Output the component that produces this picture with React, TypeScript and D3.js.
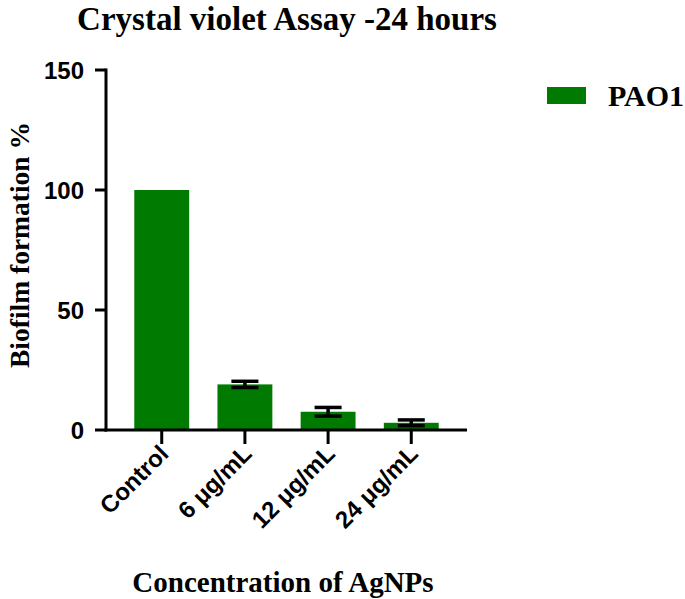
import React from "react";
import * as d3 from "d3";

const categories = ["Control", "6 \u03bcg/mL", "12 \u03bcg/mL", "24 \u03bcg/mL"];
const values = [100, 19, 7.6, 3];
const errors = [0, 1.3, 1.8, 1.2];
const yTicks = [0, 50, 100, 150];
const seriesName = "PAO1";

const W = 685;
const H = 599;
const left = 106;
const right = 467;
const top = 70;
const bottom = 430;
const green = "#007a00";
const serif = "Liberation Serif, Times New Roman, serif";
const sans = "Liberation Sans, Arial, sans-serif";

export default function App() {
  const x = d3.scaleBand<string>().domain(categories).range([left, right]).paddingInner(0.34).paddingOuter(0.34);
  const y = d3.scaleLinear().domain([0, 150]).range([bottom, top]);
  const bw = x.bandwidth();
  return (
    <svg width={W} height={H} style={{ position: "absolute", left: 0, top: 0 }}>
      <rect x={0} y={0} width={W} height={H} fill="#fff" />
      <text x={287} y={30} textAnchor="middle" fontFamily={serif} fontWeight="bold" fontSize={33}>
        Crystal violet Assay -24 hours
      </text>
      {categories.map((c, i) => (
        <rect key={c} x={x(c)} y={y(values[i])} width={bw} height={y(0) - y(values[i])} fill={green} />
      ))}
      {categories.map((c, i) =>
        errors[i] > 0 ? (
          <g key={"e" + c} stroke="#000" strokeWidth={3.5}>
            <line x1={x(c)! + bw / 2} x2={x(c)! + bw / 2} y1={y(values[i] + errors[i])} y2={y(values[i] - errors[i])} />
            <line x1={x(c)! + bw / 2 - 13.5} x2={x(c)! + bw / 2 + 13.5} y1={y(values[i] + errors[i])} y2={y(values[i] + errors[i])} />
            <line x1={x(c)! + bw / 2 - 13.5} x2={x(c)! + bw / 2 + 13.5} y1={y(values[i] - errors[i])} y2={y(values[i] - errors[i])} />
          </g>
        ) : null
      )}
      {/* y axis */}
      <line x1={left} x2={left} y1={top - 1.5} y2={bottom + 1.5} stroke="#000" strokeWidth={3} />
      {yTicks.map((t) => (
        <g key={t}>
          <line x1={left - 11} x2={left} y1={y(t)} y2={y(t)} stroke="#000" strokeWidth={3} />
          <text x={left - 22} y={y(t)} dy="0.36em" textAnchor="end" fontFamily={sans} fontWeight="bold" fontSize={24}>
            {t}
          </text>
        </g>
      ))}
      {/* x axis */}
      <line x1={left - 1.5} x2={right} y1={bottom} y2={bottom} stroke="#000" strokeWidth={3} />
      {categories.map((c) => {
        const cx = x(c)! + bw / 2;
        return (
          <g key={"t" + c}>
            <line x1={cx} x2={cx} y1={bottom} y2={bottom + 14} stroke="#000" strokeWidth={3} />
            <text
              transform={`translate(${cx - 4},${bottom + 13}) rotate(-45)`}
              textAnchor="end"
              dy="0.72em"
              fontFamily={sans}
              fontWeight="bold"
              fontSize={24}
            >
              {c}
            </text>
          </g>
        );
      })}
      <text
        transform={`translate(29,245) rotate(-90)`}
        textAnchor="middle"
        fontFamily={serif}
        fontWeight="bold"
        fontSize={27.5}
      >
        Biofilm formation %
      </text>
      <text x={283} y={592} textAnchor="middle" fontFamily={serif} fontWeight="bold" fontSize={29}>
        Concentration of AgNPs
      </text>
      <rect x={547} y={87} width={39} height={17} fill={green} />
      <text x={608} y={106} fontFamily={serif} fontWeight="bold" fontSize={30}>
        {seriesName}
      </text>
    </svg>
  );
}
